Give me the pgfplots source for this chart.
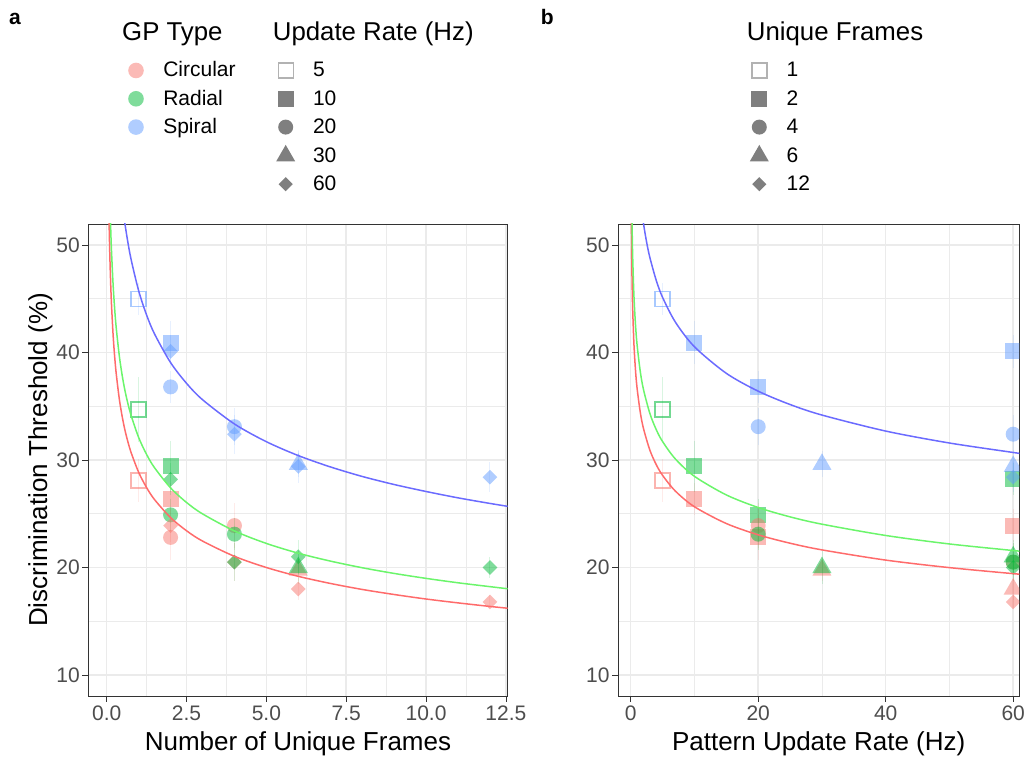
\documentclass[border=0pt]{standalone}
\usepackage{pgfplots}
\pgfplotsset{compat=1.18}
\usepackage{fontspec}
\setmainfont{Liberation Sans}
\definecolor{cC}{HTML}{F8766D}
\definecolor{cR}{HTML}{00BA38}
\definecolor{cS}{HTML}{619CFF}
\definecolor{lC}{HTML}{FF6B6B}
\definecolor{lR}{HTML}{6BF56B}
\definecolor{lS}{HTML}{6B6BFF}
\definecolor{g20}{HTML}{333333}
\definecolor{g30}{HTML}{4D4D4D}
\definecolor{g92}{HTML}{EBEBEB}
\definecolor{lg}{HTML}{7F7F7F}
\newcommand{\fs}[1]{\fontsize{#1pt}{#1pt}\selectfont}
\pgfplotsset{
  panel/.style={
    scale only axis, height=472pt,
    ymin=8.05, ymax=51.95,
    ytick={10,20,30,40,50}, yticklabels={10,20,30,40,50},
    minor ytick={15,25,35,45},
    grid=both,
    major grid style={line width=1.5pt, draw=g92},
    minor grid style={line width=0.75pt, draw=g92},
    axis line style={draw=g20, line width=0.8pt},
    tick pos=left, tick align=outside,
    major tick length=6pt, minor tick length=0pt,
    tick style={draw=g20, line width=0.8pt},
    ticklabel style={font=\fs{21}, text=g30, inner sep=0pt},
    yticklabel style={xshift=-2.5pt},
    xticklabel style={yshift=-4pt},
    clip marker paths=true,
  },
  base/.style={only marks,
    error bars/y dir=both, error bars/y explicit,
    error bars/error mark=none,
    error bars/error bar style={draw=#1, draw opacity=0.15, line width=0.9pt}},
  sqo/.style={base=#1, mark=square, mark size=7.5pt, mark options={draw=#1, draw opacity=0.55, fill=none, line width=1.4pt}},
  sqf/.style={base=#1, mark=square*, mark size=8pt, mark options={draw opacity=0, line width=0pt, fill=#1, fill opacity=0.5}},
  cir/.style={base=#1, mark=*, mark size=7.5pt, mark options={draw opacity=0, line width=0pt, fill=#1, fill opacity=0.5}},
  tri/.style={base=#1, mark=triangle*, mark size=11pt, mark options={draw opacity=0, line width=0pt, fill=#1, fill opacity=0.5}},
  dia/.style={base=#1, mark=square*, mark size=5.2pt, mark options={draw opacity=0, line width=0pt, fill=#1, fill opacity=0.5, rotate=45}},
  fitline/.style={no markers, smooth, line width=1.5pt, draw=#1},
  leg/.style={hide axis, scale only axis, width=10pt, height=10pt,
    xmin=0, xmax=1, ymin=0, ymax=1, anchor=north west,
    legend cell align=left,
    legend image code/.code={\path (0pt,-10pt) rectangle (20pt,10pt); \draw[##1] plot coordinates {(10pt,0pt)};},
    legend style={at={(0,1)}, anchor=north west, draw=none, fill=none,
      inner sep=0pt, outer sep=0pt, row sep=7.3pt, column sep=17.3pt, font=\fs{21},
      nodes={inner sep=0pt, outer sep=0pt, text height=17pt, text depth=4pt, anchor=west}}},
  lcir/.style={draw=none, mark=*, mark size=7.8pt, mark options={draw opacity=0, line width=0pt, fill=#1, fill opacity=0.5}},
  lcirg/.style={draw=none, mark=*, mark size=7.5pt, mark options={draw opacity=0, line width=0pt, fill=#1}},
  lsqo/.style={draw=none, mark=square, mark size=7.5pt, mark options={draw=#1, draw opacity=0.6, fill=none, line width=1.4pt}},
  lsqf/.style={draw=none, mark=square*, mark size=8pt, mark options={draw opacity=0, line width=0pt, fill=#1}},
  ltri/.style={draw=none, mark=triangle*, mark size=11pt, mark options={draw opacity=0, line width=0pt, fill=#1}},
  ldia/.style={draw=none, mark=square*, mark size=5pt, mark options={draw opacity=0, line width=0pt, fill=#1, rotate=45}},
}
\begin{document}
\begin{tikzpicture}
\useasboundingbox (0pt,0pt) rectangle (1029pt,758pt);

% ---------------- panel a ----------------
\begin{axis}[panel, at={(88.5pt,62pt)}, anchor=south west, width=419pt,
  xmin=-0.57, xmax=12.55,
  xtick={0,2.5,5,7.5,10,12.5}, xticklabels={0.0,2.5,5.0,7.5,10.0,12.5},
  minor xtick={1.25,3.75,6.25,8.75,11.25}]
% 5 Hz
\addplot[sqo=cC] coordinates {(1,28.1) +- (0,2.0)};
\addplot[sqo=cR] coordinates {(1,34.7) +- (0,3.0)};
\addplot[sqo=cS] coordinates {(1,45.0) +- (0,1.5)};
% 10 Hz
\addplot[sqf=cC] coordinates {(2,26.4) +- (0,1.5)};
\addplot[sqf=cR] coordinates {(2,29.4) +- (0,2.4)};
\addplot[sqf=cS] coordinates {(2,40.9) +- (0,2.0)};
% 20 Hz
\addplot[cir=cC] coordinates {(2,22.8) +- (0,2.1) (4,23.9) +- (0,2.1)};
\addplot[cir=cR] coordinates {(2,24.9) +- (0,1.5) (4,23.1) +- (0,1.5)};
\addplot[cir=cS] coordinates {(2,36.8) +- (0,1.5) (4,33.1) +- (0,1.7)};
% 30 Hz
\addplot[tri=cC] coordinates {(6,19.75) +- (0,1.0)};
\addplot[tri=cR] coordinates {(6,20.0) +- (0,1.5)};
\addplot[tri=cS] coordinates {(6,29.6) +- (0,1.2)};
% 60 Hz
\addplot[dia=cC] coordinates {(2,23.9) +- (0,1.5) (4,20.5) +- (0,1.8) (6,18.0) +- (0,1.0) (12,16.8) +- (0,0.6)};
\addplot[dia=cR] coordinates {(2,28.2) +- (0,1.5) (4,20.5) +- (0,1.8) (6,21.0) +- (0,1.6) (12,20.0) +- (0,1.0)};
\addplot[dia=cS] coordinates {(2,40.1) +- (0,1.5) (4,32.4) +- (0,1.8) (6,29.4) +- (0,1.5) (12,28.4) +- (0,1.4)};
% fitted curves
\addplot[fitline=lC] coordinates {(0.06,54.82) (0.07,52.92) (0.08,51.33) (0.1,48.79) (0.125,46.37) (0.15,44.48) (0.2,41.65) (0.25,39.59) (0.3,37.98) (0.4,35.56) (0.5,33.80) (0.6,32.42) (0.75,30.82) (1,28.86) (1.25,27.43) (1.5,26.31) (2,24.64) (2.5,23.42) (3,22.46) (4,21.04) (5,20.00) (6,19.18) (7,18.52) (8,17.96) (9,17.49) (10,17.07) (11,16.71) (12,16.38) (12.6,16.20)};
\addplot[fitline=lR] coordinates {(0.07,58.86) (0.08,57.10) (0.1,54.27) (0.125,51.57) (0.15,49.47) (0.2,46.33) (0.25,44.03) (0.3,42.24) (0.4,39.56) (0.5,37.60) (0.6,36.06) (0.75,34.28) (1,32.10) (1.25,30.51) (1.5,29.27) (2,27.41) (2.5,26.05) (3,24.99) (4,23.40) (5,22.24) (6,21.33) (7,20.60) (8,19.98) (9,19.45) (10,18.99) (11,18.58) (12,18.22) (12.6,18.01)};
\addplot[fitline=lS] coordinates {(0.4,56.38) (0.5,53.58) (0.6,51.40) (0.75,48.85) (1,45.75) (1.25,43.48) (1.5,41.71) (2,39.06) (2.5,37.13) (3,35.61) (4,33.35) (5,31.70) (6,30.41) (7,29.36) (8,28.47) (9,27.72) (10,27.07) (11,26.48) (12,25.96) (12.6,25.67)};
\end{axis}

% ---------------- panel b ----------------
\begin{axis}[panel, at={(618.3pt,62pt)}, anchor=south west, width=401pt,
  xmin=-1.95, xmax=60.96,
  xtick={0,20,40,60}, xticklabels={0,20,40,60},
  minor xtick={10,30,50}]
% 1 frame
\addplot[sqo=cC] coordinates {(5,28.1) +- (0,2.0)};
\addplot[sqo=cR] coordinates {(5,34.7) +- (0,3.0)};
\addplot[sqo=cS] coordinates {(5,45.0) +- (0,1.5)};
% 2 frames
\addplot[sqf=cC] coordinates {(10,26.4) +- (0,1.5) (20,22.8) +- (0,2.1) (60,23.9) +- (0,1.5)};
\addplot[sqf=cR] coordinates {(10,29.4) +- (0,2.4) (20,24.9) +- (0,1.5) (60,28.2) +- (0,1.5)};
\addplot[sqf=cS] coordinates {(10,40.9) +- (0,2.0) (20,36.8) +- (0,1.5) (60,40.1) +- (0,1.5)};
% 4 frames
\addplot[cir=cC] coordinates {(20,23.9) +- (0,2.1) (60,20.5) +- (0,1.8)};
\addplot[cir=cR] coordinates {(20,23.1) +- (0,1.5) (60,20.5) +- (0,1.8)};
\addplot[cir=cS] coordinates {(20,33.1) +- (0,1.7) (60,32.4) +- (0,1.8)};
% 6 frames
\addplot[tri=cC] coordinates {(30,19.75) +- (0,1.0) (60,18.0) +- (0,1.0)};
\addplot[tri=cR] coordinates {(30,20.0) +- (0,1.5) (60,21.0) +- (0,1.6)};
\addplot[tri=cS] coordinates {(30,29.6) +- (0,1.2) (60,29.4) +- (0,1.5)};
% 12 frames
\addplot[dia=cC] coordinates {(60,16.8) +- (0,0.6)};
\addplot[dia=cR] coordinates {(60,20.0) +- (0,1.0)};
\addplot[dia=cS] coordinates {(60,28.4) +- (0,1.4)};
% fitted curves
\addplot[fitline=lC] coordinates {(0.05,58.32) (0.08,54.23) (0.1,52.38) (0.15,49.19) (0.2,47.05) (0.3,44.18) (0.5,40.82) (0.75,38.33) (1,36.66) (1.5,34.43) (2,32.93) (3,30.92) (4,29.57) (5,28.57) (7,27.11) (10,25.65) (15,24.09) (20,23.04) (25,22.26) (30,21.64) (40,20.69) (50,19.99) (60,19.43) (61,19.39)};
\addplot[fitline=lR] coordinates {(0.05,64.75) (0.08,60.20) (0.1,58.16) (0.15,54.62) (0.2,52.23) (0.3,49.05) (0.5,45.32) (0.75,42.56) (1,40.70) (1.5,38.22) (2,36.56) (3,34.33) (4,32.83) (5,31.71) (7,30.10) (10,28.48) (15,26.75) (20,25.58) (25,24.71) (30,24.03) (40,22.98) (50,22.19) (60,21.58) (61,21.52)};
\addplot[fitline=lS] coordinates {(1,57.91) (1.5,54.38) (2,52.01) (2.5,50.24) (3,48.84) (4,46.71) (5,45.12) (7,42.83) (10,40.53) (15,38.06) (20,36.40) (25,35.16) (30,34.18) (40,32.69) (50,31.58) (60,30.70) (61,30.62)};
\end{axis}

% ---------------- legends ----------------
\begin{axis}[leg, at={(126pt,698pt)}]
\addlegendimage{lcir=cC}\addlegendentry{Circular}
\addlegendimage{lcir=cR}\addlegendentry{Radial}
\addlegendimage{lcir=cS}\addlegendentry{Spiral}
\end{axis}
\begin{axis}[leg, at={(275.7pt,698pt)}]
\addlegendimage{lsqo=lg}\addlegendentry{5}
\addlegendimage{lsqf=lg}\addlegendentry{10}
\addlegendimage{lcirg=lg}\addlegendentry{20}
\addlegendimage{ltri=lg}\addlegendentry{30}
\addlegendimage{ldia=lg}\addlegendentry{60}
\end{axis}
\begin{axis}[leg, at={(749.3pt,698pt)}]
\addlegendimage{lsqo=lg}\addlegendentry{1}
\addlegendimage{lsqf=lg}\addlegendentry{2}
\addlegendimage{lcirg=lg}\addlegendentry{4}
\addlegendimage{ltri=lg}\addlegendentry{6}
\addlegendimage{ldia=lg}\addlegendentry{12}
\end{axis}

% ---------------- texts ----------------
\node[anchor=base west, inner sep=0pt, font=\fs{25.8}] at (122pt,717pt) {GP Type};
\node[anchor=base west, inner sep=0pt, font=\fs{25.8}] at (272.7pt,717pt) {Update Rate (Hz)};
\node[anchor=base west, inner sep=0pt, font=\fs{25.8}] at (746.7pt,717pt) {Unique Frames};
\node[anchor=base west, inner sep=0pt, font=\bfseries\fs{21}] at (9pt,733pt) {a};
\node[anchor=base west, inner sep=0pt, font=\bfseries\fs{21}] at (540.7pt,733pt) {b};
\node[anchor=base, inner sep=0pt, font=\fs{26}] at (298pt,7pt) {Number of Unique Frames};
\node[anchor=base, inner sep=0pt, font=\fs{26}] at (818.7pt,7pt) {Pattern Update Rate (Hz)};
\node[anchor=base, rotate=90, inner sep=0pt, font=\fs{26}] at (47pt,298pt) {Discrimination Threshold (\%)};
\end{tikzpicture}
\end{document}
